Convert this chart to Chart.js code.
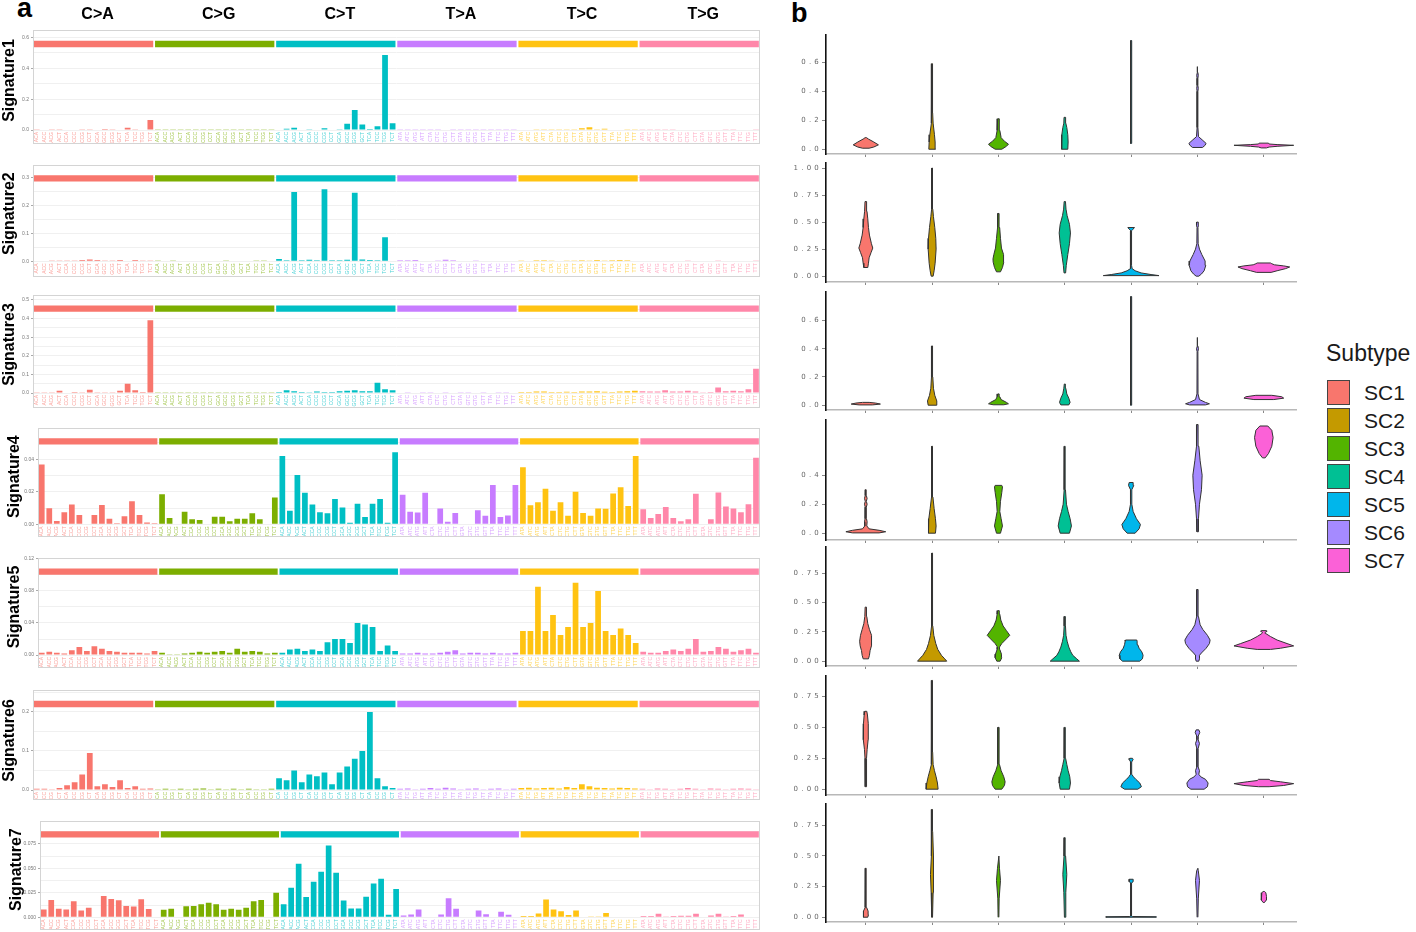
<!DOCTYPE html>
<html><head><meta charset="utf-8">
<script src="https://cdn.jsdelivr.net/npm/chart.js@4.4.1/dist/chart.umd.min.js"></script>
<style>
body{margin:0;background:#fff;width:1416px;height:932px;position:relative;overflow:hidden;font-family:'Liberation Sans',Arial,sans-serif;}
canvas{position:absolute;}
.pl{position:absolute;font-weight:bold;font-size:27px;line-height:27px;color:#000;}
.leg{position:absolute;color:#1a1a1a;}
.sw{position:absolute;width:21px;height:23px;border:1.5px solid #444;}
</style></head><body>
<div class="pl" style="left:17px;top:-5px">a</div>
<div class="pl" style="left:791px;top:0px">b</div>
<div id="legend"></div>
<script>
// ---------- categories ----------
const mutTypes = ["C>A","C>G","C>T","T>A","T>C","T>G"];
const ctxC = ["ACA","ACC","ACG","ACT","CCA","CCC","CCG","CCT","GCA","GCC","GCG","GCT","TCA","TCC","TCG","TCT"];
const ctxT = ["ATA","ATC","ATG","ATT","CTA","CTC","CTG","CTT","GTA","GTC","GTG","GTT","TTA","TTC","TTG","TTT"];
const contexts = [...ctxC,...ctxC,...ctxC,...ctxT,...ctxT,...ctxT];
const sigNames = ["Signature1","Signature2","Signature3","Signature4","Signature5","Signature6","Signature7"];
const subtypes = ["SC1","SC2","SC3","SC4","SC5","SC6","SC7"];
const groupColors = ["#F8766D","#7CAE00","#00BFC4","#C77CFF","#FFC312","#FF87A9"];
const labelColors = ["rgba(248,118,109,0.7)","rgba(124,174,0,0.7)","rgba(0,191,196,0.7)","rgba(199,124,255,0.7)","rgba(255,195,18,0.7)","rgba(255,135,169,0.7)"];
const subtypeColors = ["#F8766D","#C49A00","#53B400","#00C094","#00B6EB","#A58AFF","#FB61D7"];

// ---------- signature values (96 each, order C>A,C>G,C>T,T>A,T>C,T>G) ----------
const sig1 = [
 .002,.003,.001,.002,.004,.004,.002,.002,.003,.006,.002,.004,.015,.005,.004,.065,
 .002,.002,.001,.001,.002,.002,.001,.001,.002,.002,.001,.002,.002,.001,.001,.001,
 .003,.008,.015,.004,.002,.004,.011,.003,.005,.040,.130,.035,.006,.025,.487,.043,
 .002,.002,.002,.002,.001,.002,.003,.002,.001,.002,.002,.002,.002,.002,.002,.002,
 .003,.004,.002,.002,.002,.002,.002,.002,.012,.018,.005,.008,.003,.004,.002,.002,
 .002,.002,.002,.002,.002,.003,.003,.003,.004,.004,.003,.002,.002,.003,.003,.002];
const sig2 = [
 .002,.002,.001,.001,.003,.003,.005,.007,.005,.003,.003,.005,.002,.005,.003,.001,
 .001,.002,.001,.002,.002,.002,.002,.002,.002,.003,.002,.002,.002,.001,.001,.002,
 .008,.004,.248,.004,.006,.004,.258,.004,.004,.006,.246,.007,.005,.004,.086,.002,
 .004,.004,.005,.002,.002,.003,.006,.004,.002,.002,.003,.002,.002,.002,.002,.002,
 .003,.002,.004,.004,.003,.002,.003,.003,.004,.003,.005,.003,.004,.005,.004,.002,
 .002,.002,.002,.002,.002,.002,.003,.002,.002,.002,.003,.002,.002,.002,.002,.001];
const sig3 = [
 .004,.002,.002,.012,.003,.005,.002,.018,.004,.004,.002,.012,.050,.015,.005,.390,
 .002,.001,.001,.002,.002,.002,.001,.002,.002,.002,.001,.002,.002,.002,.001,.002,
 .005,.015,.010,.005,.004,.008,.006,.005,.010,.012,.015,.010,.010,.055,.020,.015,
 .003,.002,.003,.002,.002,.003,.004,.003,.002,.002,.003,.002,.003,.002,.002,.003,
 .006,.006,.008,.008,.005,.006,.007,.005,.008,.008,.010,.007,.006,.008,.010,.012,
 .010,.008,.008,.015,.008,.008,.012,.008,.004,.006,.030,.010,.012,.010,.020,.130];
const sig4 = [
 .0367,.0099,.0021,.0074,.0122,.0058,.0003,.0058,.0119,.0035,.0006,.0050,.0142,.0058,.0012,.0006,
 .0185,.0039,.0000,.0078,.0031,.0027,.0004,.0047,.0047,.0019,.0035,.0035,.0068,.0031,.0000,.0165,
 .0420,.0084,.0303,.0194,.0122,.0074,.0068,.0155,.0103,.0010,.0126,.0045,.0126,.0155,.0010,.0443,
 .0181,.0078,.0072,.0194,.0000,.0097,.0016,.0070,.0000,.0000,.0087,.0052,.0241,.0045,.0054,.0241,
 .0350,.0117,.0136,.0218,.0084,.0136,.0052,.0200,.0070,.0052,.0097,.0095,.0189,.0227,.0113,.0420,
 .0093,.0039,.0064,.0107,.0039,.0019,.0031,.0187,.0000,.0031,.0196,.0109,.0097,.0074,.0124,.0408];
const sig5 = [
 .003,.004,.003,.002,.006,.010,.005,.011,.008,.005,.004,.003,.003,.003,.002,.005,
 .003,.001,.001,.002,.003,.004,.003,.004,.005,.003,.008,.004,.005,.004,.002,.003,
 .003,.007,.008,.005,.007,.005,.016,.020,.020,.015,.040,.038,.035,.005,.012,.005,
 .002,.002,.003,.002,.002,.003,.004,.006,.002,.003,.003,.002,.003,.002,.002,.003,
 .030,.030,.085,.030,.050,.025,.035,.090,.035,.040,.080,.030,.025,.033,.025,.015,
 .004,.003,.003,.005,.007,.005,.008,.020,.004,.005,.010,.008,.004,.006,.008,.003];
const sig6 = [
 .003,.003,.002,.005,.012,.020,.040,.095,.010,.015,.008,.025,.005,.010,.003,.004,
 .002,.003,.002,.003,.002,.003,.004,.002,.003,.002,.003,.002,.003,.002,.002,.003,
 .030,.025,.050,.020,.040,.035,.045,.015,.045,.060,.080,.100,.200,.030,.010,.005,
 .003,.004,.002,.003,.005,.003,.006,.004,.002,.003,.004,.002,.003,.004,.002,.003,
 .005,.006,.004,.005,.006,.004,.008,.005,.015,.010,.006,.005,.004,.006,.005,.004,
 .003,.002,.004,.003,.002,.003,.005,.003,.002,.004,.003,.002,.003,.004,.003,.002];
const sig7 = [
 .0081,.0178,.0087,.0081,.0165,.0071,.0097,.0000,.0217,.0188,.0175,.0116,.0110,.0184,.0084,.0000,
 .0078,.0087,.0000,.0113,.0116,.0133,.0149,.0133,.0078,.0087,.0078,.0097,.0165,.0178,.0000,.0252,
 .0133,.0301,.0547,.0207,.0362,.0466,.0734,.0456,.0171,.0091,.0091,.0210,.0346,.0395,.0026,.0288,
 .0019,.0029,.0081,.0000,.0000,.0029,.0194,.0087,.0000,.0000,.0071,.0032,.0000,.0058,.0026,.0006,
 .0013,.0013,.0039,.0181,.0081,.0061,.0023,.0071,.0000,.0003,.0003,.0045,.0000,.0000,.0006,.0000,
 .0013,.0013,.0036,.0003,.0013,.0016,.0016,.0036,.0000,.0019,.0036,.0003,.0013,.0029,.0006,.0000];

// y tick labels of panel a
const sigTicks = [
 ["0.0","0.2","0.4","0.6"],
 ["0.0","0.1","0.2","0.3"],
 ["0.0","0.1","0.2","0.3","0.4","0.5"],
 ["0.00","0.02","0.04"],
 ["0.00","0.04","0.08","0.12"],
 ["0.0","0.1","0.2"],
 ["0.000","0.025","0.050","0.075"]];

// ---------- violin profiles: [y, half-width] from bottom to top, per subtype ----------
const vSig1 = [
 [[0.007,0.05],[0.015,0.12],[0.03,0.19],[0.05,0.12],[0.07,0.04],[0.08,0.01]],
 [[0,0.05],[0.05,0.045],[0.1,0.035],[0.18,0.015],[0.25,0.008],[0.59,0.006]],
 [[0,0.05],[0.02,0.12],[0.035,0.15],[0.055,0.09],[0.08,0.04],[0.13,0.02],[0.21,0.012]],
 [[0,0.045],[0.05,0.05],[0.1,0.045],[0.15,0.03],[0.18,0.015],[0.22,0.012]],
 [[0.04,0.006],[0.2,0.008],[0.3,0.012],[0.4,0.008],[0.75,0.005]],
 [[0.012,0.075],[0.025,0.11],[0.04,0.13],[0.065,0.07],[0.087,0.015],[0.15,0.006],[0.4,0.006],[0.42,0.012],[0.44,0.006],[0.49,0.006],[0.51,0.012],[0.53,0.006],[0.57,0.006]],
 [[0.009,0.04],[0.015,0.08],[0.02,0.2],[0.027,0.45],[0.032,0.2],[0.036,0.08],[0.042,0.07]]];
const vSig2 = [
 [[0.08,0.03],[0.12,0.04],[0.17,0.05],[0.22,0.08],[0.26,0.105],[0.3,0.085],[0.38,0.055],[0.45,0.04],[0.53,0.03],[0.6,0.018],[0.69,0.012]],
 [[0,0.015],[0.05,0.03],[0.12,0.045],[0.25,0.06],[0.35,0.055],[0.45,0.04],[0.55,0.02],[0.62,0.01],[0.75,0.006],[1.0,0.005]],
 [[0.04,0.03],[0.08,0.06],[0.13,0.08],[0.16,0.083],[0.2,0.07],[0.26,0.045],[0.35,0.03],[0.45,0.018],[0.5,0.01],[0.58,0.008]],
 [[0.03,0.012],[0.1,0.022],[0.2,0.045],[0.3,0.07],[0.4,0.085],[0.48,0.07],[0.56,0.035],[0.62,0.018],[0.69,0.01]],
 [[0.005,0.42],[0.015,0.3],[0.03,0.15],[0.05,0.06],[0.07,0.015],[0.1,0.006],[0.42,0.006],[0.435,0.03],[0.45,0.05]],
 [[0,0.02],[0.02,0.06],[0.05,0.1],[0.1,0.125],[0.14,0.115],[0.2,0.065],[0.25,0.03],[0.3,0.01],[0.45,0.007],[0.47,0.015],[0.5,0.012]],
 [[0.035,0.11],[0.05,0.2],[0.07,0.33],[0.085,0.39],[0.095,0.3],[0.105,0.16],[0.115,0.12],[0.122,0.1]]];
const vSig3 = [
 [[0.002,0.1],[0.008,0.22],[0.015,0.15],[0.02,0.05]],
 [[0,0.06],[0.03,0.07],[0.07,0.04],[0.12,0.02],[0.2,0.01],[0.42,0.006]],
 [[0.003,0.08],[0.01,0.15],[0.02,0.12],[0.04,0.04],[0.06,0.02],[0.08,0.01]],
 [[0.002,0.06],[0.02,0.08],[0.05,0.06],[0.08,0.03],[0.12,0.015],[0.15,0.008]],
 [[0,0.006],[0.3,0.008],[0.5,0.01],[0.77,0.005]],
 [[0.002,0.12],[0.01,0.18],[0.02,0.12],[0.04,0.03],[0.08,0.008],[0.38,0.006],[0.4,0.015],[0.42,0.006],[0.48,0.005]],
 [[0.04,0.15],[0.05,0.3],[0.06,0.27],[0.07,0.12]]];
const vSig4 = [
 [[0.002,0.2],[0.01,0.3],[0.02,0.2],[0.03,0.05],[0.05,0.015],[0.08,0.02],[0.1,0.01],[0.18,0.008],[0.2,0.02],[0.22,0.008],[0.24,0.02],[0.26,0.008],[0.3,0.006]],
 [[0,0.05],[0.05,0.06],[0.1,0.05],[0.17,0.03],[0.25,0.012],[0.35,0.006],[0.6,0.005]],
 [[0,0.03],[0.05,0.06],[0.1,0.04],[0.15,0.02],[0.22,0.03],[0.28,0.05],[0.32,0.06],[0.33,0.05]],
 [[0,0.07],[0.05,0.1],[0.1,0.08],[0.15,0.05],[0.2,0.025],[0.3,0.01],[0.6,0.005]],
 [[0,0.06],[0.03,0.12],[0.06,0.14],[0.1,0.08],[0.15,0.03],[0.2,0.01],[0.3,0.01],[0.33,0.04],[0.35,0.03]],
 [[0.01,0.008],[0.1,0.015],[0.2,0.03],[0.3,0.06],[0.4,0.07],[0.5,0.04],[0.6,0.02],[0.7,0.01],[0.75,0.008]],
 [[0.52,0.02],[0.55,0.07],[0.6,0.12],[0.66,0.14],[0.71,0.12],[0.74,0.06]]];
const vSig5 = [
 [[0.02,0.04],[0.05,0.055],[0.09,0.065],[0.13,0.085],[0.17,0.093],[0.22,0.08],[0.27,0.055],[0.32,0.03],[0.38,0.015],[0.46,0.01]],
 [[0,0.22],[0.02,0.19],[0.05,0.14],[0.1,0.085],[0.15,0.055],[0.22,0.025],[0.3,0.01],[0.5,0.007],[0.92,0.005]],
 [[0,0.025],[0.03,0.05],[0.06,0.045],[0.1,0.02],[0.12,0.015],[0.15,0.05],[0.19,0.12],[0.22,0.17],[0.26,0.12],[0.3,0.07],[0.35,0.035],[0.4,0.02],[0.43,0.012]],
 [[0,0.22],[0.02,0.18],[0.05,0.12],[0.08,0.09],[0.12,0.06],[0.17,0.035],[0.22,0.018],[0.3,0.01],[0.38,0.008]],
 [[0,0.13],[0.02,0.17],[0.05,0.18],[0.08,0.16],[0.11,0.12],[0.14,0.1],[0.17,0.09],[0.18,0.085]],
 [[0,0.02],[0.02,0.03],[0.05,0.03],[0.07,0.06],[0.11,0.13],[0.15,0.18],[0.18,0.19],[0.22,0.15],[0.27,0.08],[0.31,0.04],[0.38,0.015],[0.5,0.01],[0.61,0.008]],
 [[0.1,0.1],[0.11,0.25],[0.13,0.45],[0.15,0.35],[0.18,0.2],[0.21,0.1],[0.235,0.03],[0.245,0.02],[0.255,0.05],[0.26,0.04]]];
const vSig6 = [
 [[0.02,0.008],[0.1,0.01],[0.25,0.012],[0.32,0.02],[0.4,0.035],[0.46,0.04],[0.53,0.035],[0.6,0.025],[0.63,0.015]],
 [[0,0.09],[0.05,0.08],[0.1,0.06],[0.15,0.035],[0.2,0.015],[0.3,0.008],[0.88,0.005]],
 [[0,0.05],[0.03,0.09],[0.06,0.1],[0.1,0.08],[0.15,0.04],[0.2,0.015],[0.3,0.01],[0.35,0.012],[0.4,0.008],[0.5,0.008]],
 [[0,0.07],[0.05,0.085],[0.1,0.075],[0.15,0.05],[0.2,0.03],[0.25,0.012],[0.35,0.008],[0.5,0.006]],
 [[0,0.1],[0.02,0.155],[0.05,0.13],[0.08,0.07],[0.1,0.035],[0.12,0.01],[0.22,0.008],[0.24,0.03],[0.25,0.02]],
 [[0,0.1],[0.02,0.15],[0.05,0.16],[0.08,0.12],[0.1,0.05],[0.12,0.02],[0.15,0.03],[0.18,0.01],[0.33,0.01],[0.37,0.03],[0.4,0.01],[0.43,0.012],[0.46,0.035],[0.48,0.02]],
 [[0.02,0.08],[0.03,0.3],[0.045,0.45],[0.06,0.25],[0.07,0.1],[0.08,0.08]]];
const vSig7 = [
 [[0,0.03],[0.02,0.04],[0.05,0.035],[0.08,0.012],[0.15,0.006],[0.4,0.005]],
 [[0,0.006],[0.2,0.015],[0.35,0.025],[0.5,0.015],[0.7,0.008],[0.88,0.005]],
 [[0,0.006],[0.15,0.01],[0.3,0.03],[0.4,0.015],[0.5,0.006]],
 [[0,0.006],[0.2,0.015],[0.35,0.03],[0.5,0.012],[0.65,0.005]],
 [[0,0.38],[0.004,0.38],[0.006,0.02],[0.01,0.006],[0.28,0.006],[0.29,0.03],[0.31,0.03]],
 [[0,0.006],[0.15,0.012],[0.3,0.03],[0.38,0.012],[0.4,0.006]],
 [[0.12,0.01],[0.14,0.035],[0.17,0.04],[0.2,0.03],[0.21,0.01]]];
const violinTicks = [
 ["0.0","0.2","0.4","0.6"],
 ["0.00","0.25","0.50","0.75","1.00"],
 ["0.0","0.2","0.4","0.6"],
 ["0.0","0.2","0.4"],
 ["0.00","0.25","0.50","0.75"],
 ["0.00","0.25","0.50","0.75"],
 ["0.00","0.25","0.50","0.75"]];

// ---------- chart setup ----------
Chart.defaults.font.family = "'Liberation Sans', Arial, sans-serif";
Chart.defaults.animation = false;
Chart.defaults.responsive = false;
Chart.defaults.devicePixelRatio = 1;
Chart.defaults.events = [];
Chart.defaults.plugins.legend.display = false;
Chart.defaults.plugins.tooltip.enabled = false;

function addCanvas(left, top, w, h) {
  const c = document.createElement('canvas');
  c.width = w; c.height = h;
  c.style.left = left + 'px'; c.style.top = top + 'px';
  document.body.appendChild(c);
  return c;
}

const boxBorder = {
  id: 'boxBorder',
  afterDraw(chart) {
    const a = chart.chartArea, c = chart.ctx, xb = chart.scales.x.bottom;
    c.save(); c.strokeStyle = '#d4d4d4'; c.lineWidth = 1;
    c.strokeRect(Math.round(a.left) + 0.5, Math.round(a.top) + 0.5, Math.round(a.right - a.left) - 1, Math.round(xb - a.top) - 1);
    c.restore();
  }
};

// panel a geometry: canvasTop, boxTop, zero line px, boxBottom, boxLeft, yMax
const sigGeom = [
 [0,   30, 130,   144, 33, 0.649],
 [160, 160, 261.3, 277, 33, 0.345],
 [290, 290, 393,   408, 33, 0.526],
 [423, 423, 524.3, 537, 38, 0.0591],
 [553, 553, 655,   668, 38, 0.121],
 [685, 685, 790,   800, 33, 0.256],
 [816, 816, 917.3, 930, 40, 0.0983]];
const sigData = [sig1, sig2, sig3, sig4, sig5, sig6, sig7];
const boxRight = 763;
const barColors = contexts.map((_, i) => groupColors[Math.floor(i / 16)]);

sigData.forEach((vals, k) => {
  const [cTop, bTop, zeroPx, bBot, bLeft, yMax] = sigGeom[k];
  const ppu = (zeroPx - bTop) / yMax;
  const yMin = -1 / ppu;
  const xAxisH = bBot - (zeroPx + 1);
  const cv = addCanvas(0, cTop, boxRight, bBot - cTop);
  const major = sigTicks[k].map(parseFloat);
  const step = major[1] - major[0];
  const minor = major.map(v => v + step / 2).filter(v => v < yMax);
  const allTicks = [...major, ...minor].sort((a, b) => a - b);
  const isMajor = v => major.some(m => Math.abs(m - v) < 1e-9);
  const stripLo = yMax * 0.828, stripHi = yMax * 0.893;
  new Chart(cv, {
    type: 'bar',
    data: {
      labels: contexts,
      datasets: [
        { data: vals, backgroundColor: barColors, borderWidth: 0, barPercentage: 0.76, categoryPercentage: 1, grouped: false, xAxisID: 'x', yAxisID: 'y' },
        { data: mutTypes.map(() => [stripLo, stripHi]), backgroundColor: groupColors, borderWidth: 0, barPercentage: 0.985, categoryPercentage: 1, grouped: false, xAxisID: 'x2', yAxisID: 'y' }
      ]
    },
    options: {
      layout: { padding: 0, autoPadding: false },
      scales: {
        x: {
          type: 'category', position: 'bottom',
          grid: { display: false, drawTicks: false }, border: { display: false },
          ticks: { autoSkip: false, minRotation: 90, maxRotation: 90, font: { size: 5 }, padding: 1,
                   color: c => labelColors[Math.floor(c.index / 16)] },
          afterFit: s => { s.height = xAxisH; }
        },
        x2: {
          type: 'category', labels: mutTypes, position: 'top', display: k === 0,
          grid: { display: false, drawTicks: false }, border: { display: false },
          ticks: { font: { size: 16, weight: 'bold' }, color: '#000', padding: 6, labelOffset: 4 },
          afterFit: s => { s.height = (k === 0 ? 30 : 0); }
        },
        y: {
          min: yMin, max: yMax,
          afterBuildTicks: s => { s.ticks = allTicks.map(v => ({ value: v })); },
          ticks: { font: { size: 5 }, color: '#777', padding: 2,
                   callback: v => { const i = major.findIndex(m => Math.abs(m - v) < 1e-9); return i >= 0 ? sigTicks[k][i] : ''; } },
          grid: { color: '#f0f0f0', lineWidth: 1, tickLength: 2, tickColor: c => isMajor(c.tick.value) ? '#aaa' : 'rgba(0,0,0,0)' },
          border: { display: false },
          title: { display: true, text: sigNames[k], color: '#000', font: { size: 16, weight: 'bold' }, padding: { top: bLeft - 33, bottom: 0 } },
          afterFit: s => { s.width = bLeft; }
        }
      }
    },
    plugins: [boxBorder]
  });
});

// ---------- panel b: violins ----------
const violinData = [vSig1, vSig2, vSig3, vSig4, vSig5, vSig6, vSig7];
// axis top, axis bottom, yMin, yMax
const vGeom = [
 [31, 154, -0.033, 0.787],
 [159, 282, -0.054, 1.045],
 [288, 410, -0.034, 0.801],
 [416, 540, -0.047, 0.78],
 [543, 666, -0.041, 0.97],
 [672, 795, -0.047, 0.914],
 [800, 922, -0.039, 0.923]];

function violinPoly(center, prof) {
  const right = prof.map(([y, w]) => ({ x: center + w, y }));
  const left = prof.slice().reverse().map(([y, w]) => ({ x: center - w, y }));
  return right.concat(left, [right[0]]);
}
const spacing = { id: 'spacing', beforeDraw(chart) { chart.ctx.letterSpacing = '3.2px'; } };

violinData.forEach((profs, k) => {
  const [top, bot, yMin, yMax] = vGeom[k];
  const cv = addCanvas(780, top, 517, bot - top + 6);
  const major = violinTicks[k].map(parseFloat);
  new Chart(cv, {
    type: 'scatter',
    data: {
      datasets: profs.map((p, i) => ({
        data: violinPoly(i + 1, p), showLine: true, fill: 'shape', tension: 0,
        backgroundColor: subtypeColors[i], borderColor: '#333', borderWidth: 1, pointRadius: 0
      }))
    },
    options: {
      layout: { padding: 0, autoPadding: false },
      scales: {
        x: {
          type: 'linear', min: 0.4, max: 7.5,
          afterBuildTicks: s => { s.ticks = subtypes.map((_, i) => ({ value: i + 1 })); },
          ticks: { callback: () => '', font: { size: 1 } },
          grid: { drawOnChartArea: false, drawTicks: true, tickLength: 3, tickColor: '#888', lineWidth: 1 },
          border: { color: '#b8b8b8', width: 1.5 },
          afterFit: s => { s.height = 6; }
        },
        y: {
          min: yMin, max: yMax,
          afterBuildTicks: s => { s.ticks = major.map(v => ({ value: v })); },
          ticks: { font: { size: 7, family: "'DejaVu Sans', sans-serif" }, color: '#666', padding: 0,
                   callback: v => { const i = major.findIndex(m => Math.abs(m - v) < 1e-9); return i >= 0 ? violinTicks[k][i] : ''; } },
          grid: { drawOnChartArea: false, tickLength: 4, tickColor: '#888' },
          border: { color: '#111', width: 1.6 },
          afterFit: s => { s.width = 46; }
        }
      }
    },
    plugins: [spacing]
  });
});

// ---------- legend ----------
const leg = document.getElementById('legend');
const t = document.createElement('div');
t.className = 'leg'; t.style.left = '1326px'; t.style.top = '340px'; t.style.fontSize = '23px';
t.textContent = 'Subtype'; leg.appendChild(t);
subtypes.forEach((s, i) => {
  const sw = document.createElement('div');
  sw.className = 'sw'; sw.style.left = '1327px'; sw.style.top = (380 + 28 * i) + 'px';
  sw.style.background = subtypeColors[i]; leg.appendChild(sw);
  const l = document.createElement('div');
  l.className = 'leg'; l.style.left = '1364px'; l.style.top = (380 + 28 * i) + 'px';
  l.style.fontSize = '21px'; l.style.lineHeight = '26px'; l.textContent = s; leg.appendChild(l);
});
</script>
</body></html>
